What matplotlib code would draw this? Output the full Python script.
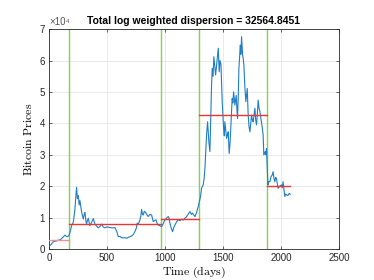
import matplotlib
matplotlib.use('Agg')
import matplotlib.pyplot as plt
from matplotlib.ticker import FuncFormatter

plt.rcParams['mathtext.fontset'] = 'cm'

# price trace (day, price)
days = [0, 20, 37, 60, 80, 95, 115, 138, 150, 161, 172, 181, 195, 210, 224, 232, 238, 245, 253, 260,
        267, 281, 290, 296, 303, 310, 318, 324, 331, 339, 346, 353, 368, 382, 396, 410, 425, 440, 454, 468,
        482, 500, 526, 550, 569, 585, 598, 612, 625, 641, 655, 670, 685, 698, 712, 725, 741, 752, 761, 772,
        784, 792, 799, 806, 813, 822, 836, 846, 856, 870, 885, 892, 899, 910, 922, 932, 942, 955, 971, 985,
        1000, 1015, 1029, 1036, 1043, 1055, 1066, 1076, 1086, 1100, 1115, 1130, 1144, 1158, 1172, 1185, 1200, 1216, 1228, 1238,
        1250, 1259, 1272, 1287, 1297, 1307, 1316, 1330, 1338, 1345, 1352, 1359, 1368, 1374, 1379, 1388, 1397, 1402, 1408, 1415,
        1422, 1430, 1437, 1448, 1455, 1460, 1468, 1475, 1483, 1494, 1506, 1512, 1517, 1525, 1532, 1540, 1546, 1554, 1562, 1569,
        1575, 1580, 1586, 1592, 1598, 1603, 1615, 1620, 1626, 1632, 1638, 1644, 1649, 1655, 1661, 1666, 1670, 1675, 1681, 1690,
        1698, 1704, 1710, 1718, 1725, 1733, 1740, 1747, 1754, 1761, 1768, 1776, 1783, 1790, 1797, 1804, 1811, 1819, 1826, 1833,
        1840, 1847, 1853, 1860, 1865, 1870, 1876, 1883, 1888, 1895, 1905, 1915, 1925, 1933, 1940, 1948, 1955, 1962, 1970, 1976,
        1990, 2005, 2012, 2019, 2026, 2034, 2042, 2049, 2060, 2072, 2080]
prices = [800, 1500, 2300, 2500, 2800, 2900, 3500, 4400, 4000, 3900, 4300, 5200, 7400, 8500, 12700, 17000, 19600, 16000, 17000, 14000,
          15400, 11800, 10500, 9500, 11000, 11600, 9000, 7900, 9000, 9800, 8500, 7400, 8500, 9700, 7900, 7300, 6700, 7200, 7900, 7000,
          6700, 7000, 6800, 6700, 6800, 5500, 3900, 4000, 3600, 3500, 3600, 3400, 3700, 3900, 4100, 4500, 5500, 6500, 8200, 8000,
          9200, 10500, 12600, 11000, 10800, 12000, 11500, 10800, 10300, 11000, 10800, 9800, 8700, 9000, 9300, 8200, 7600, 7400, 7100, 8000,
          9300, 9800, 10300, 9800, 8200, 6500, 5500, 6800, 7600, 8600, 9300, 9000, 9500, 9200, 9800, 10200, 11000, 11900, 11000, 11400,
          10800, 10300, 11500, 13500, 15000, 16700, 19300, 20400, 22500, 25700, 31000, 36300, 40500, 37000, 34100, 31000, 44800, 52000, 57500, 55000,
          61200, 58000, 55400, 59600, 62000, 63900, 56400, 60000, 58900, 46900, 38400, 36000, 40500, 37500, 35200, 36500, 37300, 30400, 34000, 39500,
          44000, 47900, 46500, 50000, 48000, 45800, 48900, 45000, 41600, 48000, 57500, 61000, 64900, 62000, 67600, 64000, 61700, 60700, 58500, 51100,
          46900, 49000, 51100, 42600, 39000, 37300, 40000, 42600, 41000, 40500, 42500, 44800, 41000, 39500, 43000, 47400, 45000, 43700, 42000, 40500,
          38500, 36300, 29900, 30500, 31000, 30000, 32000, 25000, 20400, 21500, 21400, 23000, 23500, 24600, 22500, 21400, 22800, 22400, 20500, 19300,
          20000, 20400, 19500, 21400, 19000, 16700, 17500, 17200, 17000, 17700, 17400]

# segment boundaries and segment levels
bounds = [0, 172, 970, 1297, 1883, 2080]
levels = [3000, 7850, 9450, 42600, 20000]

fig = plt.figure(figsize=(3.74, 2.8), dpi=100)
ax = fig.add_axes([0.131, 0.111, 0.775, 0.785])

ax.plot(days, prices, color='#1f7dc6', lw=0.8, zorder=3)
for i in range(len(levels)):
    c = '#f09090' if i == 0 else '#ee3333'
    ax.plot([bounds[i], bounds[i + 1]], [levels[i], levels[i]], color=c, lw=1.0, zorder=4)
for b in bounds[1:-1]:
    ax.axvline(b, color='#84d444', lw=1.0, zorder=2)

ax.set_xlim(0, 2500)
ax.set_ylim(0, 70000)
ax.set_xticks([0, 500, 1000, 1500, 2000, 2500])
ax.set_yticks(range(0, 70001, 10000))
ax.yaxis.set_major_formatter(FuncFormatter(lambda v, p: f'{v / 1e4:g}'))
ax.grid(True, color='#e6e6e6', lw=0.6)
ax.set_axisbelow(True)
ax.tick_params(direction='in', length=2.5, width=0.5, labelsize=7, colors='#262626',
               top=True, right=True, pad=3)
for s in ax.spines.values():
    s.set_color('#262626')
    s.set_linewidth(0.6)
for lab in ax.get_xticklabels() + ax.get_yticklabels():
    lab.set_family('Liberation Sans')

ax.set_xlabel(r'$\mathrm{Time\ (days)}$', fontsize=8.5, labelpad=1)
ax.set_ylabel(r'$\mathrm{Bitcoin\ Prices}$', fontsize=8.5, labelpad=3)
ax.set_title('Total log weighted dispersion = 32564.8451', fontsize=7.5,
             fontweight='bold', family='Liberation Sans', pad=4)
fig.text(0.131, 0.905, '×10⁴', fontsize=7, color='#555555',
         ha='left', va='bottom', family=['Liberation Sans', 'DejaVu Sans'])

fig.savefig('out.png', dpi=100)
